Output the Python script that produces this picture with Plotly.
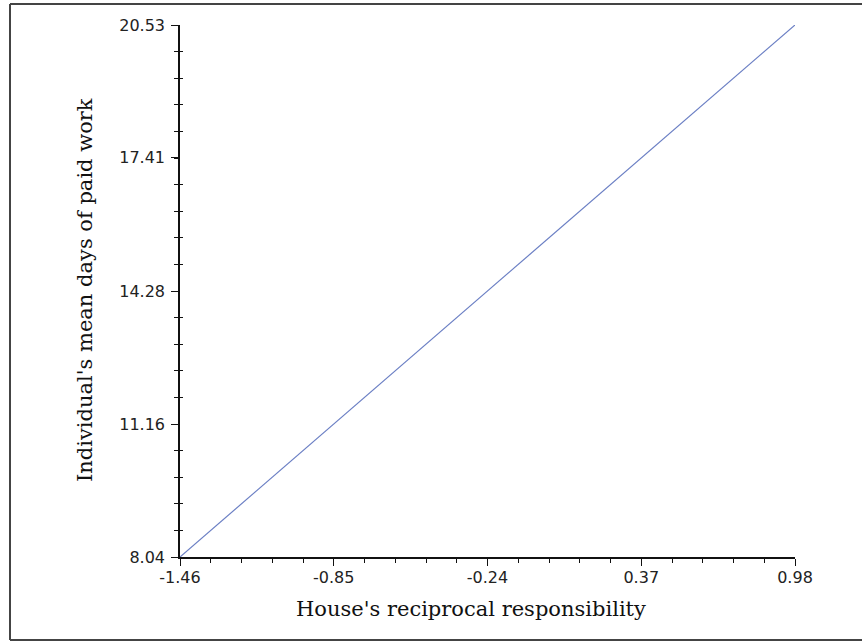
import plotly.graph_objects as go

# Data
x_vals = [-1.46, 0.98]
y_vals = [8.04, 20.53]
x_ticks = [-1.46, -0.85, -0.24, 0.37, 0.98]
x_ticklabels = ["-1.46", "-0.85", "-0.24", "0.37", "0.98"]
y_ticks = [8.04, 11.16, 14.28, 17.41, 20.53]
y_ticklabels = ["8.04", "11.16", "14.28", "17.41", "20.53"]
x_title = "House's reciprocal responsibility"
y_title = "Individual's mean days of paid work"

W, H = 862, 643
L, R, T, B = 180, 67, 25, 86
pw, ph = W - L - R, H - T - B

def px_x(p):
    return (p - L) / pw

def px_y(p):
    return (H - B - p) / ph

y_minor_step = (y_vals[1] - y_vals[0]) / 20
x_minor_step = (x_vals[1] - x_vals[0]) / 20
y_minor_vals = [y_vals[0] + i * y_minor_step for i in range(21) if i % 5 != 0]

fig = go.Figure()
fig.add_trace(go.Scatter(x=x_vals, y=y_vals, mode="lines",
                         line=dict(color="#6b7fc4", width=1.2),
                         hoverinfo="skip", showlegend=False))

tickfont = dict(family="DejaVu Sans", size=16, color="#222")
title_font = dict(family="DejaVu Serif", size=21, color="#111")
fig.update_layout(
    width=W, height=H,
    margin=dict(l=L, r=R, t=T, b=B),
    paper_bgcolor="white", plot_bgcolor="white",
    showlegend=False,
    xaxis=dict(range=[x_vals[0], x_vals[1]], tickvals=x_ticks, ticktext=x_ticklabels,
               showgrid=False, zeroline=False, showline=True, linecolor="#111", linewidth=1.5,
               ticks="outside", ticklen=7, tickwidth=1.3, tickcolor="#111",
               tickfont=tickfont, ticklabelstandoff=-2,
               minor=dict(tick0=x_vals[0], dtick=x_minor_step, ticks="outside", ticklen=4,
                          tickwidth=1.2, tickcolor="#111", showgrid=False)),
    yaxis=dict(range=[y_vals[0], y_vals[1]], tickvals=y_ticks, ticktext=y_ticklabels,
               showgrid=False, zeroline=False, showline=True, linecolor="#111", linewidth=1.5,
               ticks="outside", ticklen=7, tickwidth=1.3, tickcolor="#111",
               tickfont=tickfont, ticklabelstandoff=3,
               minor=dict(tick0=y_vals[0], dtick=y_minor_step, ticks="outside", ticklen=4,
                          tickwidth=1.2, tickcolor="#111", showgrid=False)),
    yaxis2=dict(range=[y_vals[0], y_vals[1]], overlaying="y", side="left",
                tickvals=y_minor_vals, ticks="inside", ticklen=3, tickwidth=1.2,
                tickcolor="#111", showticklabels=False, showgrid=False, zeroline=False,
                showline=False),
    annotations=[
        dict(text=x_title, xref="paper", yref="paper", x=px_x(471), y=px_y(609),
             xanchor="center", yanchor="middle", showarrow=False, font=title_font),
        dict(text=y_title, xref="paper", yref="paper", x=px_x(85), y=px_y(290),
             xanchor="center", yanchor="middle", showarrow=False, textangle=-90,
             font=title_font),
    ],
    shapes=[
        dict(type="line", xref="paper", yref="paper", x0=px_x(10), x1=px_x(10),
             y0=px_y(4), y1=px_y(640), line=dict(color="#444", width=2)),
        dict(type="line", xref="paper", yref="paper", x0=px_x(10), x1=px_x(862),
             y0=px_y(4), y1=px_y(4), line=dict(color="#444", width=2)),
        dict(type="line", xref="paper", yref="paper", x0=px_x(10), x1=px_x(862),
             y0=px_y(640), y1=px_y(640), line=dict(color="#444", width=2)),
    ],
)
# invisible trace to activate yaxis2
fig.add_trace(go.Scatter(x=[x_vals[0]], y=[y_vals[0]], yaxis="y2", mode="markers",
                         marker=dict(opacity=0), hoverinfo="skip", showlegend=False))

fig.write_html("out.html", config={"displayModeBar": False},
               post_script="document.body.style.margin='0';document.body.style.overflow='hidden';")
